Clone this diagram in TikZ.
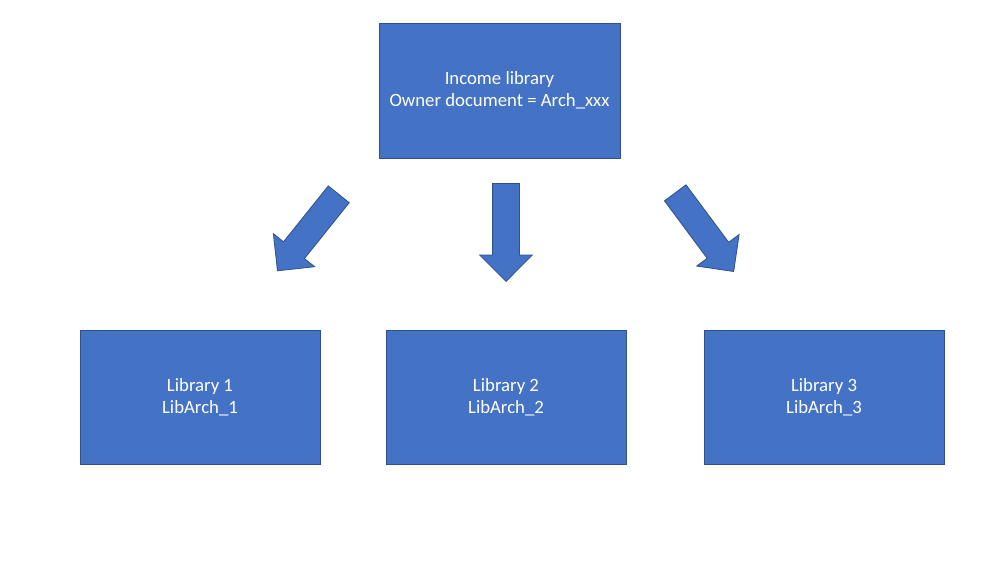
\documentclass[tikz,border=0pt]{standalone}
\usepackage{fontspec}
\setmainfont{Carlito}
\usepackage{tikz}
\usetikzlibrary{shapes.arrows}
\definecolor{officeblue}{HTML}{4472C4}
\definecolor{officeedge}{HTML}{2F528F}

\begin{document}
\begin{tikzpicture}[
  x=0.03cm, y=-0.03cm,
  box/.style={draw=officeedge, line width=0.8pt, fill=officeblue, text=white,
    minimum width=7.2cm, minimum height=4.02cm, align=center,
    font=\fontsize{16}{19.2}\selectfont},
  bigarrow/.style={single arrow, draw=officeedge, line width=0.7pt, fill=officeblue,
    inner xsep=0pt, inner ysep=0.39cm, minimum height=2.94cm, minimum width=1.56cm,
    single arrow head extend=0.39cm, single arrow tip angle=90, anchor=tail}
]
\useasboundingbox (0,0) rectangle (999,562);
\node[box, minimum width=7.23cm, minimum height=4.05cm] (income) at (499.5,90.5)
  {Income library\\Owner document = Arch\_xxx};
\foreach \n/\xc in {1/200,2/506,3/824}
  \node[box] (lib\n) at (\xc,397) {Library \n\\LibArch\_\n};
\node[bigarrow, rotate=231.3] (arrleft) at (339,194) {};
\node[bigarrow, rotate=-90] (arrmid) at (506,183) {};
\node[bigarrow, rotate=-53.4] (arrright) at (675,192.5) {};
\end{tikzpicture}
\end{document}
